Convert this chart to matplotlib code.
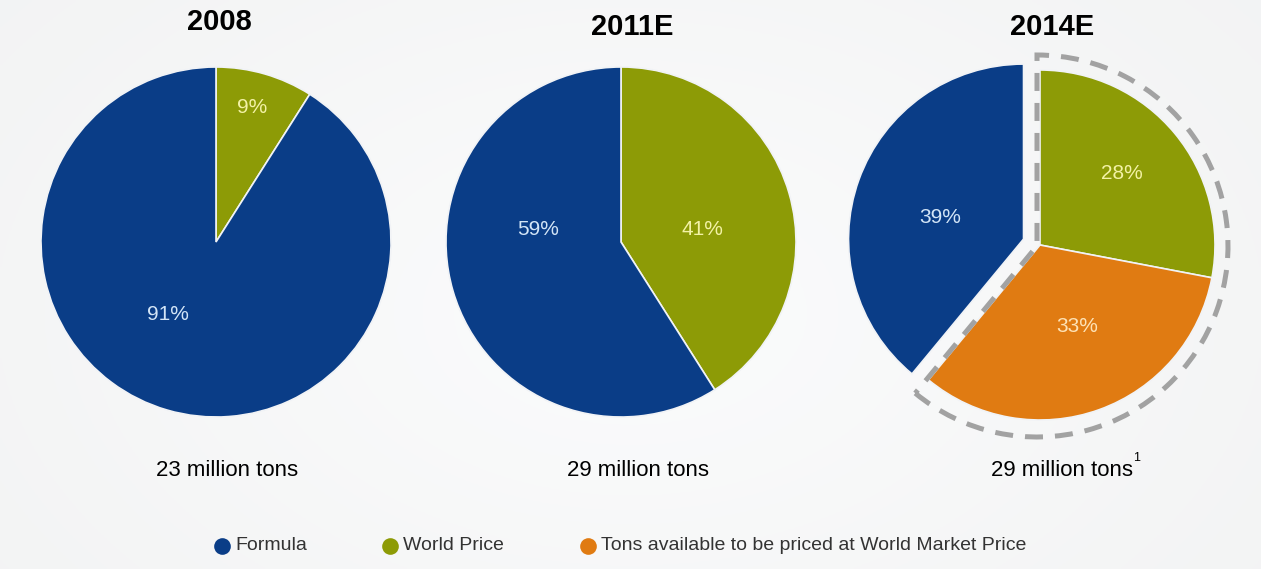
import numpy as np
import matplotlib
matplotlib.use("Agg")
import matplotlib.pyplot as plt
from matplotlib.patches import Wedge

plt.rcParams['font.family'] = ['Liberation Sans', 'DejaVu Sans']

# ---- data -------------------------------------------------------------
years = ["2008", "2011E", "2014E"]
volumes = ["23 million tons", "29 million tons", "29 million tons"]
categories = ["Formula", "World Price",
              "Tons available to be priced at World Market Price"]
# shares in percent: Formula, World Price, Tons available at world price
share_2008 = [91, 9, 0]
share_2011 = [59, 41, 0]
share_2014 = [39, 28, 33]
footnote = "1"

# ---- style / layout ---------------------------------------------------
W, H = 1261, 569
colors = ["#0a3d87", "#8d9b06", "#e07b12"]
label_colors = ["#d3e5f7", "#f3f2a6", "#fde2b6"]
draw_order = [1, 2, 0]          # clockwise from 12 o'clock
centers = [(216, 242), (621, 242), (1040, 245)]
radius = 175
title_pos = [(219, 22), (632, 27), (1052, 27)]
volume_pos = [(227, 470), (638, 470), (1062, 470)]
explode_2014 = {0: 0.1 * radius}   # pull the Formula slice out (data units)
# label offsets (px) from the pie centre, per category
label_offsets = [
    {0: (-48, 72), 1: (36, -135)},
    {0: (-83, -13), 1: (81, -13)},
    {0: (-100, -28), 1: (82, -72), 2: (37, 82)},
]

fig = plt.figure(figsize=(W / 100, H / 100), dpi=100)
ax = fig.add_axes([0, 0, 1, 1])

# soft grey backdrop
yy, xx = np.mgrid[0:1:200j, 0:1:400j]
shade = 0.95 + 0.035 * np.exp(-((xx - 0.5) ** 2 / 0.25 + (yy - 0.55) ** 2 / 0.5))
bg = np.dstack([shade * 0.995, shade * 0.998, shade * 1.0])
ax.imshow(np.clip(bg, 0, 1), extent=[0, W, 0, H], aspect='auto', zorder=0)

shares = [share_2008, share_2011, share_2014]
for i, vals in enumerate(shares):
    cx, cy = centers[i]
    idx = [k for k in draw_order if vals[k] > 0]
    expl = [(explode_2014.get(k, 0) if i == 2 else 0) for k in idx]
    ax.pie([vals[k] for k in idx], colors=[colors[k] for k in idx],
           startangle=90, counterclock=False, center=(cx, H - cy),
           radius=radius, explode=expl, frame=False,
           wedgeprops=dict(edgecolor="#f1f3f6", linewidth=1.2, zorder=2))
    for k in idx:
        dx, dy = label_offsets[i][k]
        ax.text(cx + dx, H - (cy + dy), f"{vals[k]}%", ha="center", va="center",
                fontsize=15, color=label_colors[k], zorder=4)
    tx, ty = title_pos[i]
    ax.text(tx, H - ty, years[i], ha="center", va="center", fontsize=21,
            fontweight="bold", color="black", zorder=4)
    vx, vy = volume_pos[i]
    ax.text(vx, H - vy, volumes[i], ha="center", va="center", fontsize=16,
            color="black", zorder=4)

# footnote marker on the 2014 volume
ax.text(1137, H - 458, footnote, ha="center", va="center", fontsize=9,
        color="black", zorder=4)

# dashed outline around the share open to world pricing
open_share = share_2014[1] + share_2014[2]
ax.add_patch(Wedge((1037, H - 246), 191, 90 - 360 * open_share / 100, 90,
                   fill=False, edgecolor="#a2a2a2", linewidth=3.6,
                   linestyle=(0, (3.6, 2.4)), joinstyle="miter", zorder=3))

# legend
legend_x = [222, 390, 588]
legend_y = H - 546
for k, name in enumerate(categories):
    ax.plot(legend_x[k], legend_y, "o", ms=12, color=colors[k],
            mec="none", zorder=4)
    ax.text(legend_x[k] + 13, legend_y, name, ha="left", va="center",
            fontsize=14, color="#333333", zorder=4)

ax.set_xlim(0, W)
ax.set_ylim(0, H)
ax.set_aspect("auto")
ax.axis("off")

fig.savefig("out.png", dpi=100)
